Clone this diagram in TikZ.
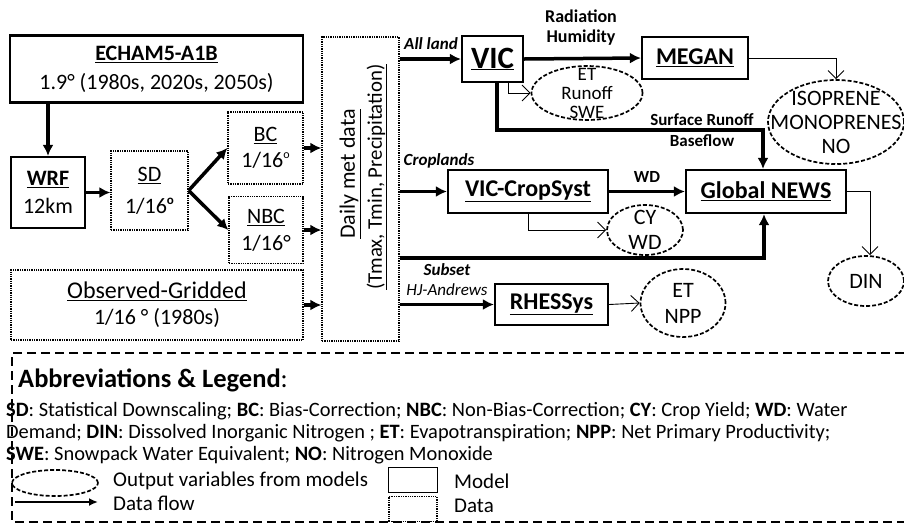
\documentclass[tikz,border=0pt]{standalone}
\usepackage{fontspec}
\setmainfont{Carlito}
\usetikzlibrary{arrows.meta,calc,shapes.geometric}
\newcommand\fsz[2]{\fontsize{#1}{#2}\selectfont}
\newcommand\degbig{\raisebox{9pt}{\fsz{13}{13}\bfseries o}}
\newcommand\degmid{\raisebox{9pt}{\fsz{12}{12}o}}
\tikzset{
	model/.style={draw, line width=2.2pt, inner sep=0pt, align=center},
	datab/.style={draw, densely dotted, line width=1.3pt, inner sep=0pt, align=center},
	outv/.style={draw, ellipse, dash pattern=on 4pt off 2pt, line width=1.7pt, inner sep=0pt},
	flow/.style={line width=3.5pt, -{Latex[length=11pt,width=11pt]}},
	thinflow/.style={line width=0.9pt, -{Straight Barb[length=8pt,width=16pt]}},
	lbl/.style={font=\fsz{17}{20}\bfseries, inner sep=0pt, align=center},
	txt/.style={font=\fsz{22}{24}, inner sep=0pt, align=center},
	lgtxt/.style={anchor=west, inner sep=0pt, font=\fsz{21}{22}},
	abbrline/.style={anchor=west, inner sep=0pt, font=\fsz{20.4}{22}},
}

\begin{document}
\begin{tikzpicture}[x=1pt, y=-1pt]
		%%%%% START %%%%%
		\useasboundingbox (0,0) rectangle (904,523);
		
		% climate data
		\node[model, minimum width=293pt, minimum height=67pt, font=\fsz{22}{29}] (echam) at (156.5,69) {\textbf{\underline{ECHAM5-A1B}}\\1.9° (1980s, 2020s, 2050s)};
		\node[model, minimum width=74pt, minimum height=71pt, font=\fsz{22}{28}] (wrf) at (48,192.5) {\textbf{\underline{WRF}}\\12km};
		\node[datab, minimum width=77pt, minimum height=79pt, font=\fsz{22}{32}] (sd) at (149.5,190.5) {\underline{SD}\\1/16\degbig};
		\node[datab, minimum width=75pt, minimum height=72pt, font=\fsz{22}{26}] (bc) at (265.5,148) {\underline{BC}\\1/16\degmid};
		\node[datab, minimum width=74pt, minimum height=67pt, font=\fsz{22}{27}] (nbc) at (266,230) {\underline{NBC}\\1/16°};
		\node[datab, minimum width=292pt, minimum height=70pt, font=\fsz{22}{26}] (obs) at (157,305) {{\fsz{24}{26}\underline{Observed-Gridded}}\\1/16 ° (1980s)};
		\node[datab, minimum width=77pt, minimum height=304pt] (daily) at (360.5,189) {};
		\node[rotate=90, inner sep=0pt, font=\fsz{22}{24}] (dmd) at (350,174) {\underline{Daily met data}};
		\node[rotate=90, inner sep=0pt, font=\fsz{20.8}{22}] (tmx) at (377,177) {\underline{(Tmax, Tmin, Precipitation)}};
		
		\draw[flow] (echam.south -| wrf.north) -- (wrf.north);
		\draw[flow] (wrf.east) -- (wrf.east -| sd.west);
		\draw[flow] (sd.east) -- (bc.west);
		\draw[flow] (sd.east) -- (nbc.west);
		\draw[flow] (bc.east) -- (bc.east -| daily.west);
		\draw[flow] (nbc.east) -- (nbc.east -| daily.west);
		\draw[flow] (obs.east) -- (obs.east -| daily.west);
		
		% models
		\node[model, minimum width=61pt, minimum height=46pt, font=\fsz{31}{31}\bfseries] (vic) at (492.5,59) {\underline{VIC}};
		\node[model, minimum width=106pt, minimum height=42pt, font=\fsz{24}{24}\bfseries] (megan) at (695,58) {\underline{MEGAN}};
		\node[model, minimum width=160pt, minimum height=43pt, font=\fsz{24}{24}\bfseries] (crop) at (528,191.5) {\underline{VIC-CropSyst}};
		\node[model, minimum width=160pt, minimum height=43pt, font=\fsz{24}{24}\bfseries] (news) at (766,191.5) {\underline{Global NEWS}};
		\node[model, minimum width=113pt, minimum height=41pt, font=\fsz{24}{24}\bfseries] (rhes) at (551.5,304.5) {\underline{RHESSys}};
		
		% outputs
		\node[outv, minimum width=111pt, minimum height=54pt] (etro) at (587,93) {};
		\node[txt, font=\fsz{19}{19}] (etrotxt) at (etro) {ET\\Runoff\\SWE};
		\node[outv, minimum width=136pt, minimum height=84pt] (isop) at (836,122) {};
		\node[txt] (isoptxt) at (isop) {ISOPRENE\\MONOPRENES\\NO};
		\node[outv, minimum width=76pt, minimum height=50pt] (cywd) at (645,230) {};
		\node[txt, font=\fsz{22}{25}] (cywdtxt) at (cywd) {CY\\WD};
		\node[outv, minimum width=85pt, minimum height=68pt] (etnpp) at (683,303) {};
		\node[txt, font=\fsz{22}{26}] (etnpptxt) at (etnpp) {ET\\NPP};
		\node[outv, minimum width=76pt, minimum height=50pt] (din) at (866,281) {};
		\node[txt] (dintxt) at (din) {DIN};
		
		\coordinate (bend) at (763,130);
		\coordinate (subset) at (daily.east |- 0,258);
		
		\draw[flow] (daily.east |- vic.west) -- (vic.west);
		\draw[flow] (vic.east) -- (megan.west);
		\draw[thinflow] (megan.east) -| (isop.north);
		\draw[thinflow] ($(vic.south)+(15.5,0)$) |- (etro.west);
		\draw[flow] ($(vic.south)+(4.5,0)$) |- (bend) -- (bend |- news.north);
		\draw[flow] (daily.east |- crop.west) -- (crop.west);
		\draw[flow] (crop.east) -- (news.west);
		\draw[thinflow] (crop.south) |- (cywd.west);
		\draw[flow] (subset) -| ($(news.south)+(-2,0)$);
		\draw[flow] (daily.east |- rhes.west) -- (rhes.west);
		\draw[thinflow] (rhes.east) -- (etnpp.west);
		\draw[thinflow] (news.east) -| ($(din.north)+(4,0)$);
		
		\node[lbl, font=\fsz{17}{20}\bfseries\itshape] (alland) at (431,44) {All land};
		\node[lbl, font=\fsz{18}{20}\bfseries] (radhum) at (581,28) {Radiation\\Humidity};
		\node[lbl, font=\fsz{17}{21}\bfseries] (srb) at (702,130) {Surface Runoff\\Baseflow};
		\node[lbl, font=\fsz{17}{20}\bfseries\itshape] (cropl) at (439,161) {Croplands};
		\node[lbl] (wdl) at (647,177) {WD};
		\node[lbl, font=\fsz{17}{20}\bfseries\itshape] (subl) at (447,270) {Subset};
		\node[lbl, font=\fsz{17}{20}\itshape] (hja) at (447,290) {HJ-Andrews};
		
		% legend
		\draw[line width=1.3pt, dash pattern=on 9pt off 5pt] (904,353) -- (12,353) -- (12,522) -- (904,522);
		\node[anchor=west, inner sep=0pt, font=\fsz{26.5}{28}] (abbr) at (18,380) {\textbf{Abbreviations \& Legend}:};
		\node[abbrline] (abbr1) at (6,411) {\textbf{SD}: Statistical Downscaling; \textbf{BC}: Bias-Correction; \textbf{NBC}: Non-Bias-Correction; \textbf{CY}: Crop Yield; \textbf{WD}: Water};
		\node[abbrline] (abbr2) at (6,433) {Demand; \textbf{DIN}: Dissolved Inorganic Nitrogen ; \textbf{ET}: Evapotranspiration; \textbf{NPP}: Net Primary Productivity;};
		\node[abbrline] (abbr3) at (6,455) {\textbf{SWE}: Snowpack Water Equivalent; \textbf{NO}: Nitrogen Monoxide};
		
		\node[outv, minimum width=86pt, minimum height=26pt] (lgell) at (55,483) {};
		\node[lgtxt] (lgelltxt) at (113,481) {Output variables from models};
		\coordinate (lgA) at (15,502);
		\coordinate (lgB) at (98,502);
		\draw[line width=2.5pt, -{Latex[length=9pt,width=8pt]}] (lgA) -- (lgB);
		\node[lgtxt] (lgflow) at (113,503) {Data flow};
		\node[model, line width=1.8pt, minimum width=49pt, minimum height=25pt] (lgmodel) at (413,480) {};
		\node[lgtxt] (lgmodeltxt) at (454,481) {Model};
		\node[datab, minimum width=48pt, minimum height=25pt] (lgdata) at (413,509) {};
		\node[lgtxt] (lgdatatxt) at (454,506) {Data};
		
		%%%%% END %%%%%
	\end{tikzpicture}
\end{document}
